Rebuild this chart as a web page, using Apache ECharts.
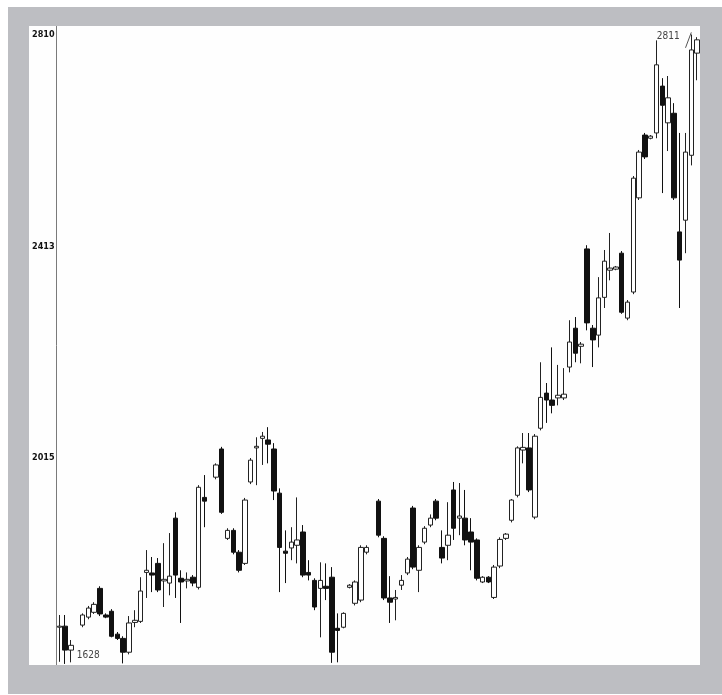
<!DOCTYPE html>
<html>
<head>
<meta charset="utf-8">
<script src="https://cdn.jsdelivr.net/npm/echarts@6/dist/echarts.min.js"></script>
<style>
  html, body { margin: 0; padding: 0; background: #ffffff; width: 722px; height: 695px; overflow: hidden; }
  #frame { position: absolute; left: 8px; top: 7px; width: 714px; height: 687px; background: #bdbec2; }
  #chart { position: absolute; left: 29px; top: 26px; width: 671px; height: 639px; background: #fefefe; }
</style>
</head>
<body>
<div id="frame"></div>
<div id="chart"></div>
<script>
// Candle values (null = empty slot)
const opens = [1697,1699,1654,null,1701,1716,1725,1770,1720,1727,1684,1676,1650,1706,1708,1800,1799,1817,1784,1780,1902,1789,1784,1791,1772,1941,null,
  1979,2032,1864,1879,1838,1817,1970,2034,2052,2049,2032,1949,1840,1846,1851,1876,1800,1785,1770,1774,1791,1695,1697,1772,1742,1748,1838,null,
  1934,1864,1752,1750,1776,1799,1921,1804,1857,1889,1934,1847,1851,1955,1902,1902,1876,1861,1782,1791,1753,1812,1864,1898,1945,2030,2034,1904,
  2071,2137,2124,2128,2128,2186,2259,2225,2408,2259,2246,2317,2368,2370,2400,2278,2327,2504,2622,2616,2626,2714,2645,2663,2440,2462,2584,2776];
const closes = [1699,1654,1663,null,1720,1733,1740,1722,1716,1680,1676,1650,1705,1710,1765,1804,1795,1767,1787,1793,1795,1782,1787,1780,1960,1934,null,
  2002,1913,1879,1838,1804,1936,2011,2037,2056,2041,1953,1847,1836,1857,1861,1795,1795,1735,1785,1770,1650,1691,1723,1776,1782,1847,1847,null,
  1870,1752,1744,1753,1785,1825,1810,1847,1883,1902,1902,1827,1870,1883,1906,1861,1857,1789,1791,1782,1810,1862,1872,1936,2034,2035,1955,2056,
  2129,2124,2114,2133,2135,2233,2212,2229,2269,2237,2316,2385,2372,2374,2289,2308,2541,2590,2581,2620,2754,2678,2692,2504,2387,2590,2782,2801];
const lows = [1632,1628,1631,null,1697,1712,1722,1718,1714,1678,1673,1629,1646,1697,1705,1752,1763,1763,1735,1757,1752,1705,1770,1774,1768,1885,null,
  1975,1910,1861,1834,1800,1814,1966,1964,2002,2005,1936,1763,1780,1823,1817,1791,1785,1729,1678,1748,1630,1631,1695,1770,1738,1744,1834,null,
  1866,1748,1705,1710,1767,1795,1806,1763,1853,1885,1898,1817,1823,1861,1870,1851,1804,1785,1780,1780,1750,1808,1861,1894,1941,2005,1951,1900,
  2067,2081,2099,2114,2124,2176,2195,2193,2255,2186,2223,2297,2349,2368,2286,2274,2323,2500,2577,2614,2616,2513,2592,2500,2297,2400,2565,2725];
const highs = [1720,1720,1673,null,1723,1737,1744,1774,1723,1731,1688,1680,1718,1729,1791,1842,1829,1827,1855,1874,1913,1804,1800,1795,1964,1983,null,
  2005,2036,1883,1883,1842,1940,2015,2054,2064,2073,2043,1958,1879,1885,1941,1889,1823,1789,1819,1817,1810,1723,1725,1778,1785,1851,1851,null,
  1938,1868,1793,1767,1795,1829,1925,1851,1887,1909,1938,1879,1932,1970,1968,1955,1902,1864,1793,1793,1814,1866,1874,1938,2037,2062,2062,2060,
  2195,2156,2223,2190,2184,2274,2280,2233,2415,2265,2355,2406,2438,2376,2404,2312,2545,2594,2626,2622,2800,2729,2733,2682,2626,2626,2811,2806];

const yTicks = [2015, 2413, 2810];
const lowLabel = { idx: 1, value: 1628, text: '1628' };
const highLabel = { idx: 109, value: 2811, text: '2811' };

const categories = opens.map((_, i) => 'D' + (i + 1));
const candles = opens.map((o, i) => o === null ? ['-', '-', '-', '-'] : [o, closes[i], lows[i], highs[i]]);

const FONT = '"DejaVu Sans Condensed", "Liberation Sans", "DejaVu Sans", sans-serif';

const chart = echarts.init(document.getElementById('chart'), null, { renderer: 'canvas' });
chart.setOption({
  animation: false,
  backgroundColor: '#fefefe',
  grid: { left: 25, right: 0, top: 0, bottom: 0, containLabel: false },
  xAxis: {
    type: 'category',
    data: categories,
    boundaryGap: true,
    axisLine: { show: false },
    axisTick: { show: false },
    axisLabel: { show: false },
    splitLine: { show: false }
  },
  yAxis: {
    type: 'value',
    min: 1626,
    max: 2827,
    position: 'left',
    axisLine: { show: true, lineStyle: { color: '#7a7a7a', width: 1 } },
    axisTick: { show: false },
    splitLine: { show: false },
    axisLabel: {
      customValues: yTicks,
      formatter: v => String(v),
      color: '#111',
      fontFamily: FONT,
      fontWeight: 'bold',
      fontSize: 9,
      margin: 2
    }
  },
  series: [{
    type: 'candlestick',
    data: candles,
    barWidth: 5,
    itemStyle: {
      color: '#ffffff',
      color0: '#111111',
      borderColor: '#222222',
      borderColor0: '#111111',
      borderWidth: 1
    },
    markPoint: {
      symbol: 'rect',
      symbolSize: [1, 1],
      itemStyle: { color: 'rgba(0,0,0,0)' },
      label: {
        show: true,
        color: '#444',
        fontFamily: FONT,
        fontSize: 10
      },
      data: [
        { coord: [categories[lowLabel.idx], lowLabel.value], value: lowLabel.text,
          label: { formatter: lowLabel.text, offset: [23, -9] } },
        { coord: [categories[highLabel.idx], highLabel.value], value: highLabel.text,
          label: { formatter: highLabel.text, offset: [-23, 2] } }
      ]
    },
    markLine: {
      silent: true,
      symbol: ['none', 'none'],
      lineStyle: { color: '#555', width: 1, type: 'solid' },
      label: { show: false },
      data: [[
        { coord: [categories[108], 2786] },
        { coord: [categories[109], 2815] }
      ]]
    }
  }]
});
</script>
</body>
</html>
